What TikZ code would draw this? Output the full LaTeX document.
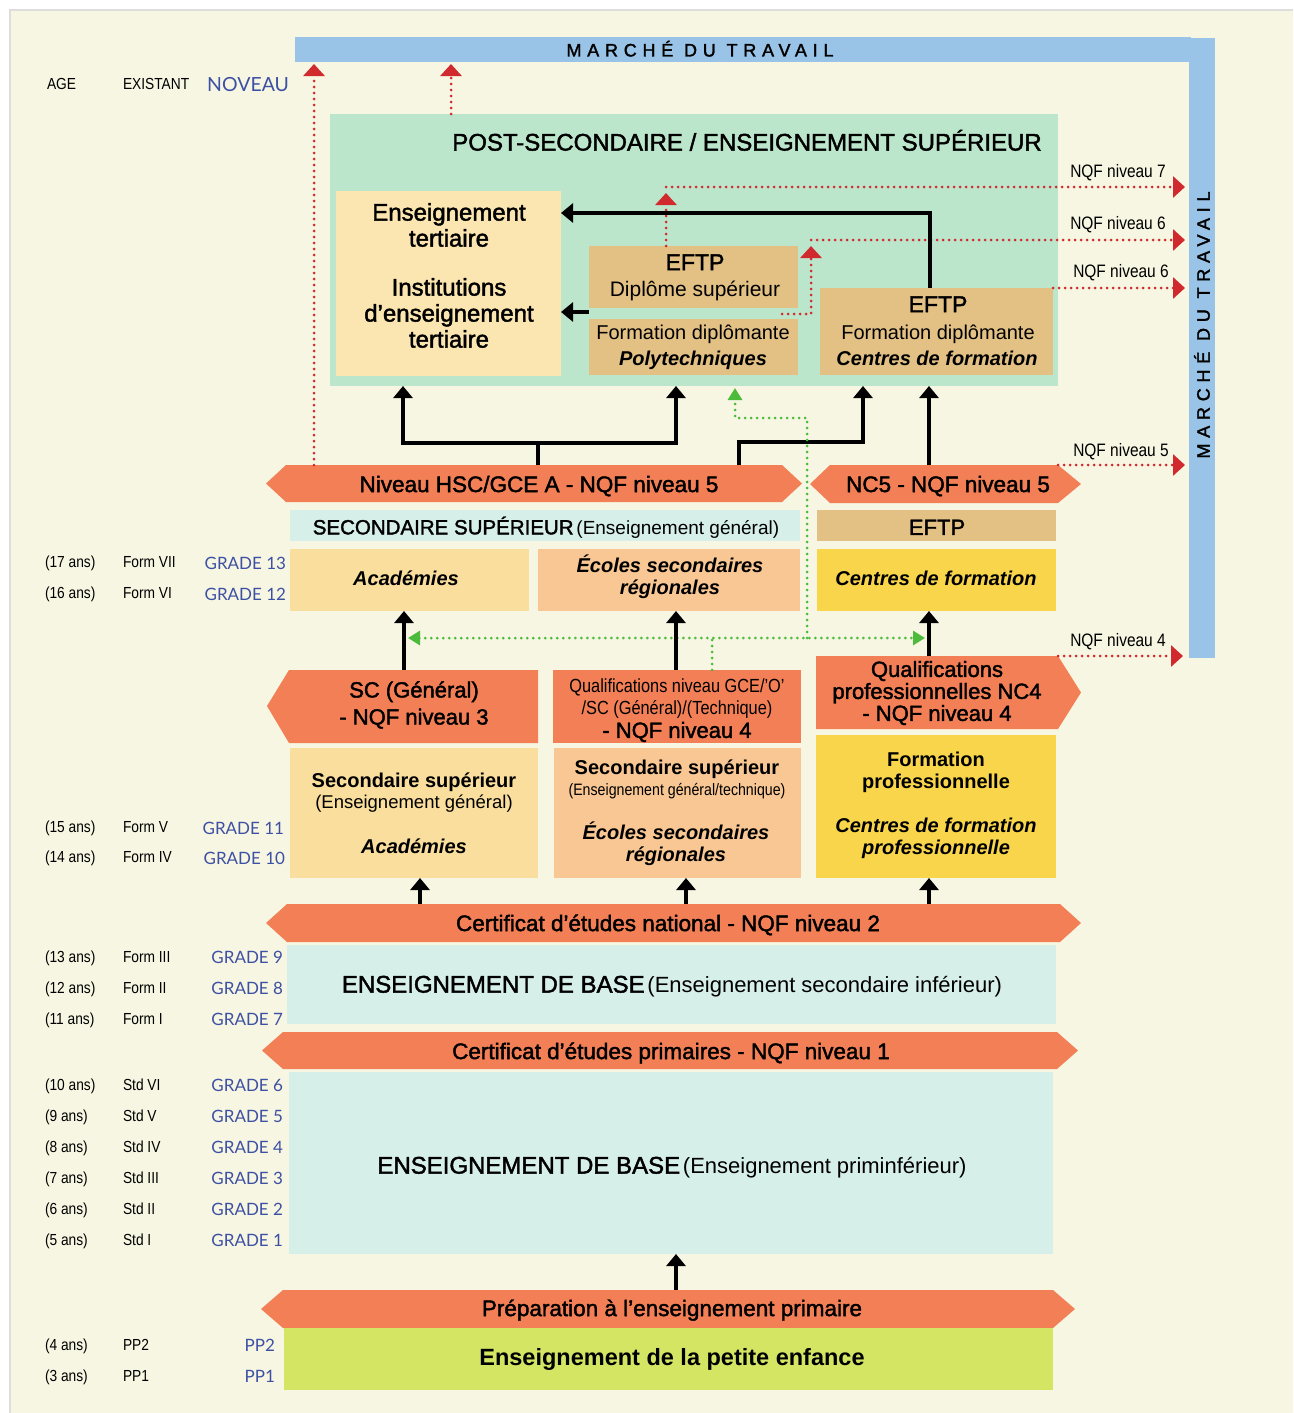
\documentclass[tikz,border=0pt]{standalone}
\usepackage{fontspec}
\setmainfont{Liberation Sans}
\newfontfamily\narrowf[FakeStretch=0.86]{Liberation Sans}
\newfontfamily\medf[FakeBold=1.8]{Liberation Sans}
\newfontfamily\gradef{Lato}
\newfontfamily\spacedf[LetterSpace=32,FakeBold=1.8]{Liberation Sans}
\usetikzlibrary{arrows.meta}
\newcommand\fs[2]{\fontsize{#1}{#2}\selectfont}
\definecolor{cBg}{HTML}{F7F6E2}
\definecolor{cBorder}{HTML}{DDDDDD}
\definecolor{cBlue}{HTML}{9AC4E7}
\definecolor{cPost}{HTML}{BCE6CC}
\definecolor{cTert}{HTML}{FBE5B1}
\definecolor{cTan}{HTML}{E3C184}
\definecolor{cOr}{HTML}{F37F56}
\definecolor{cCyan}{HTML}{D7EFE9}
\definecolor{cAcad}{HTML}{F9DE9D}
\definecolor{cEcol}{HTML}{F8C793}
\definecolor{cYel}{HTML}{F8D54A}
\definecolor{cPetit}{HTML}{D4E564}
\definecolor{cRed}{HTML}{D12A2E}
\definecolor{cGreen}{HTML}{4CBB3C}
\definecolor{cGrade}{HTML}{3D50A3}
\newcommand\rbox[6]{\node[blk,fill=#2,minimum width=#5pt,minimum height=#6pt] (#1) at (#3,#4) {};}
\newcommand\hbody[5]{\node[blk,minimum width=#4pt,minimum height=#5pt] (#1) at (#2,#3) {};}
\begin{document}
\begin{tikzpicture}[x=1pt,y=-1pt,
  blk/.style={inner sep=0pt,outer sep=0pt,anchor=north west,draw=none},
  txt/.style={inner sep=0pt,outer sep=0pt,align=center},
  vc/.style={txt,anchor=base,yshift=-0.358*#1pt},
  tR/.style={vc=#1,font=\fs{#1}{#1}},
  tM/.style={vc=#1,font=\medf\fs{#1}{#1}},
  tB/.style={vc=#1,font=\bfseries\fs{#1}{#1}},
  tBI/.style={vc=#1,font=\bfseries\itshape\fs{#1}{#1}},
  tN/.style={vc=#1,font=\narrowf\fs{#1}{#1}},
  lab/.style={inner sep=0pt,outer sep=0pt,anchor=base west,yshift=-5.7pt,font=\narrowf\fs{16}{16}},
  grd/.style={inner sep=0pt,outer sep=0pt,anchor=base east,yshift=-6.1pt,text=cGrade,font=\gradef\fs{17}{17}},
  nqf/.style={tN=18},
  reddot/.style={draw=cRed,line width=3pt,line cap=round,dash pattern=on 0pt off 6pt,
     -{Triangle[width=21pt,length=12pt,fill=cRed]}},
  gdot/.style={draw=cGreen,line width=3pt,line cap=round,dash pattern=on 0pt off 6pt},
  gtip/.style={-{Triangle[width=14pt,length=12pt,fill=cGreen]}},
  blkarrow/.style={draw=black,line width=4pt,line join=miter,-{Triangle[width=19pt,length=12pt]}}
]
\useasboundingbox (0,0) rectangle (1293,1413);
\fill[white] (0,0) rectangle (1293,1413);
\fill[cBg] (10,10) rectangle (1293,1413);
\draw[cBorder,line width=2pt] (10,1413) -- (10,10) -- (1293,10);

% ---- header
\node[lab] (hage) at (47,84) {AGE};
\node[lab] (hexi) at (123,84) {EXISTANT};
\node[inner sep=0pt,anchor=base west,yshift=-7pt,text=cGrade,font=\gradef\fs{19.5}{19.5}] (hnov) at (207,84) {NOVEAU};

% ---- marche du travail
\rbox{mtop}{cBlue}{295}{37}{896}{25}
\rbox{mright}{cBlue}{1189}{38}{26}{620}
\node[vc=18,font=\spacedf\fs{18}{18}] (mtt) at (700,50) {MARCHÉ DU TRAVAIL};
\node[txt,anchor=mid,rotate=90,font=\spacedf\fs{18}{18}] (mrt) at (1207,325) {MARCHÉ DU TRAVAIL};

% ---- post-secondaire
\rbox{post}{cPost}{330}{114}{728}{272}
\node[tM=24] (postt) at (747,142) {POST-SECONDAIRE / ENSEIGNEMENT SUPÉRIEUR};
\rbox{tert}{cTert}{336}{191}{225}{185}
\node[txt,font=\medf\fs{24}{26}] (terta) at (449,225) {Enseignement\\tertiaire};
\node[txt,font=\medf\fs{24}{26}] (tertb) at (449,313) {Institutions\\d’enseignement\\tertiaire};
\rbox{dipl}{cTan}{589}{246}{209}{62}
\node[tM=23] (diplA) at (695,262) {EFTP};
\node[tR=21] (diplB) at (695,289) {Diplôme supérieur};
\rbox{poly}{cTan}{589}{319}{209}{56}
\node[tR=20] (polyA) at (693,332) {Formation diplômante};
\node[tBI=20] (polyB) at (693,358) {Polytechniques};
\rbox{cent}{cTan}{820}{288}{233}{87}
\node[tM=23] (centA) at (938,304) {EFTP};
\node[tR=20] (centB) at (938,332) {Formation diplômante};
\node[tBI=20] (centC) at (937,358) {Centres de formation};

% ---- NQF labels
\node[nqf] (n7) at (1118,171) {NQF niveau 7};
\node[nqf] (n6a) at (1118,223) {NQF niveau 6};
\node[nqf] (n6b) at (1121,271) {NQF niveau 6};
\node[nqf] (n5) at (1121,450) {NQF niveau 5};
\node[nqf] (n4) at (1118,640) {NQF niveau 4};

% ---- level 5 hexagons
\fill[cOr] (266,483.5) -- (286,465) -- (782,465) -- (802,483.5) -- (782,502) -- (286,502) -- cycle;
\hbody{hsc}{286}{465}{496}{37}
\node[tM=22.5] (hsct) at (539,484) {Niveau HSC/GCE A - NQF niveau 5};
\fill[cOr] (810,484) -- (830,465) -- (1058,465) -- (1081,484) -- (1058,503) -- (830,503) -- cycle;
\hbody{nc5}{830}{465}{228}{38}
\node[tM=22.5] (nc5t) at (948,484) {NC5 - NQF niveau 5};

% ---- secondaire superieur
\rbox{ssbar}{cCyan}{290}{510}{510}{31}
\node[vc=20.5] (ssbart) at (546,527) {{\medf\fs{20.5}{20.5}SECONDAIRE SUPÉRIEUR} {\fs{19}{19}(Enseignement général)}};
\rbox{eftpbar}{cTan}{817}{510}{239}{31}
\node[tM=22] (eftpbart) at (937,527) {EFTP};
\rbox{acad}{cAcad}{290}{549}{239}{62}
\node[tBI=20] (acadt) at (406,578) {Académies};
\rbox{ecoles}{cEcol}{538}{549}{262}{62}
\node[txt,font=\bfseries\itshape\fs{20}{22}] (ecolest) at (670,577) {Écoles secondaires\\régionales};
\rbox{centf}{cYel}{817}{549}{239}{62}
\node[tBI=20] (centft) at (936,578) {Centres de formation};

% ---- level 3/4
\fill[cOr] (267,706) -- (289,670) -- (538,670) -- (538,743) -- (289,743) -- cycle;
\hbody{sc}{289}{670}{249}{73}
\node[txt,font=\medf\fs{22}{27}] (sct) at (414,705) {SC (Général)\\- NQF niveau 3};
\rbox{qual}{cOr}{553}{670}{248}{73}
\node[tN=19] (qualA) at (677,686) {Qualifications niveau GCE/’O’};
\node[tN=19] (qualB) at (677,708) {/SC (Général)/(Technique)};
\node[tM=22] (qualC) at (677,730) {- NQF niveau 4};
\fill[cOr] (816,656) -- (1058,656) -- (1081,692.5) -- (1058,729) -- (816,729) -- cycle;
\hbody{nc4}{816}{656}{242}{73}
\node[txt,font=\medf\fs{22}{22}] (nc4t) at (937,693) {Qualifications\\professionnelles NC4\\- NQF niveau 4};

\rbox{ss1}{cAcad}{290}{748}{248}{130}
\node[tB=20] (ss1a) at (414,780) {Secondaire supérieur};
\node[tR=18.5] (ss1b) at (414,802) {(Enseignement général)};
\node[tBI=20] (ss1c) at (414,846) {Académies};
\rbox{ss2}{cEcol}{554}{748}{247}{130}
\node[tB=20] (ss2a) at (677,767) {Secondaire supérieur};
\node[tN=16.5] (ss2b) at (677,790) {(Enseignement général/technique)};
\node[txt,font=\bfseries\itshape\fs{20}{22}] (ss2c) at (676,844) {Écoles secondaires\\régionales};
\rbox{fp}{cYel}{816}{735}{240}{143}
\node[txt,font=\bfseries\fs{20}{22}] (fpa) at (936,772) {Formation\\professionnelle};
\node[txt,font=\bfseries\itshape\fs{20}{22}] (fpb) at (936,838) {Centres de formation\\professionnelle};

% ---- base
\fill[cOr] (266,923) -- (287,904) -- (1060,904) -- (1081,923) -- (1060,942) -- (287,942) -- cycle;
\hbody{cnat}{287}{904}{773}{38}
\node[tM=22.5] (cnatt) at (668,923) {Certificat d’études national - NQF niveau 2};
\rbox{bsec}{cCyan}{287}{945}{769}{79}
\node[vc=24] (bsect) at (672,984) {{\medf\fs{24}{24}ENSEIGNEMENT DE BASE} {\fs{22}{22}(Enseignement secondaire inférieur)}};
\fill[cOr] (262,1050.5) -- (283,1032) -- (1057,1032) -- (1078,1050.5) -- (1057,1069) -- (283,1069) -- cycle;
\hbody{cprim}{283}{1032}{774}{37}
\node[tM=22.5] (cprimt) at (671,1051) {Certificat d’études primaires - NQF niveau 1};
\rbox{bprim}{cCyan}{289}{1072}{764}{182}
\node[vc=24] (bprimt) at (672,1165) {{\medf\fs{24}{24}ENSEIGNEMENT DE BASE} {\fs{22}{22}(Enseignement priminférieur)}};
\fill[cOr] (261,1309) -- (283,1290) -- (1053,1290) -- (1075,1309) -- (1053,1328) -- (283,1328) -- cycle;
\hbody{prep}{283}{1290}{770}{38}
\node[tM=22.5] (prept) at (672,1308) {Préparation à l’enseignement primaire};
\rbox{petit}{cPetit}{284}{1328}{769}{62}
\node[tB=23.5] (petitt) at (672,1357) {Enseignement de la petite enfance};

% ---- left labels
\node[lab] (a17) at (45,562) {(17 ans)}; \node[lab] (f7) at (123,562) {Form VII}; \node[grd] (g13) at (286,563) {GRADE 13};
\node[lab] (a16) at (45,593) {(16 ans)}; \node[lab] (f6) at (123,593) {Form VI}; \node[grd] (g12) at (286,594) {GRADE 12};
\node[lab] (a15) at (45,827) {(15 ans)}; \node[lab] (f5) at (123,827) {Form V}; \node[grd] (g11) at (284,828) {GRADE 11};
\node[lab] (a14) at (45,857) {(14 ans)}; \node[lab] (f4) at (123,857) {Form IV}; \node[grd] (g10) at (285,858) {GRADE 10};
\node[lab] (a13) at (45,957) {(13 ans)}; \node[lab] (f3) at (123,957) {Form III}; \node[grd] (g9) at (283,957) {GRADE 9};
\node[lab] (a12) at (45,988) {(12 ans)}; \node[lab] (f2) at (123,988) {Form II}; \node[grd] (g8) at (283,988) {GRADE 8};
\node[lab] (a11) at (45,1019) {(11 ans)}; \node[lab] (f1) at (123,1019) {Form I}; \node[grd] (g7) at (283,1019) {GRADE 7};
\node[lab] (a10) at (45,1085) {(10 ans)}; \node[lab] (s6) at (123,1085) {Std VI}; \node[grd] (g6) at (283,1085) {GRADE 6};
\node[lab] (a9) at (45,1116) {(9 ans)}; \node[lab] (s5) at (123,1116) {Std V}; \node[grd] (g5) at (283,1116) {GRADE 5};
\node[lab] (a8) at (45,1147) {(8 ans)}; \node[lab] (s4) at (123,1147) {Std IV}; \node[grd] (g4) at (283,1147) {GRADE 4};
\node[lab] (a7) at (45,1178) {(7 ans)}; \node[lab] (s3) at (123,1178) {Std III}; \node[grd] (g3) at (283,1178) {GRADE 3};
\node[lab] (a6) at (45,1209) {(6 ans)}; \node[lab] (s2) at (123,1209) {Std II}; \node[grd] (g2) at (283,1209) {GRADE 2};
\node[lab] (a5) at (45,1240) {(5 ans)}; \node[lab] (s1) at (123,1240) {Std I}; \node[grd] (g1) at (283,1240) {GRADE 1};
\node[lab] (a4) at (45,1345) {(4 ans)}; \node[lab] (p2) at (123,1345) {PP2}; \node[grd] (pp2) at (275,1345) {PP2};
\node[lab] (a3) at (45,1376) {(3 ans)}; \node[lab] (p1) at (123,1376) {PP1}; \node[grd] (pp1) at (275,1376) {PP1};

% ---- connectors
\coordinate (redA) at (782,314);
\coordinate (redB) at (811,240);
\coordinate (redC) at (666,187);
\draw[reddot,shorten >=2pt] (hsc.north -| 314,0) -- (mtop.south -| 314,0);
\draw[reddot,shorten >=2pt] (post.north -| 451,0) -- (mtop.south -| 451,0);
\draw[reddot] (dipl.north -| 666,0) -- (666,193);
\draw[reddot,shorten >=4pt] (redC) -- (mright.west |- redC);
\draw[reddot] (redA) -| (811,246);
\draw[reddot,shorten >=4pt] (redB) -- (mright.west |- redB);
\draw[reddot,shorten >=4pt] (cent.north east) -- (mright.west |- cent.north east);
\draw[reddot,shorten >=4pt] (nc5.north east) -- (mright.west |- nc5.north east);
\draw[reddot,shorten >=6pt] (nc4.north east) -- (mright.west |- nc4.north east);

\draw[blkarrow] (cent.north -| 930,0) -- (930,213) -- (tert.east |- 0,213);
\draw[blkarrow] (poly.west |- 0,312) -- (tert.east |- 0,312);
\draw[blkarrow] (hsc.north -| 538,0) -- (538,443) -| (post.south -| 403,0);
\draw[blkarrow] (538,443) -| (post.south -| 676,0);
\draw[blkarrow] (hsc.north -| 739,0) -- (739,442) -| (post.south -| 863,0);
\draw[blkarrow] (nc5.north -| 929,0) -- (post.south -| 929,0);

\draw[gdot,gtip,shorten >=2pt] (807,638) -- (807,418) -| (post.south -| 735,0);
\draw[gdot,{Triangle[width=14pt,length=12pt,fill=cGreen]}-{Triangle[width=14pt,length=12pt,fill=cGreen]}] (408,638) -- (925,638);
\draw[gdot] (qual.north -| 712,0) -- (712,638);

\draw[blkarrow] (sc.north -| 404,0) -- (acad.south -| 404,0);
\draw[blkarrow] (qual.north -| 676,0) -- (ecoles.south -| 676,0);
\draw[blkarrow] (nc4.north -| 929,0) -- (centf.south -| 929,0);
\draw[blkarrow] (cnat.north -| 420,0) -- (ss1.south -| 420,0);
\draw[blkarrow] (cnat.north -| 686,0) -- (ss2.south -| 686,0);
\draw[blkarrow] (cnat.north -| 929,0) -- (fp.south -| 929,0);
\draw[blkarrow] (prep.north -| 676,0) -- (bprim.south -| 676,0);
\end{tikzpicture}
\end{document}
